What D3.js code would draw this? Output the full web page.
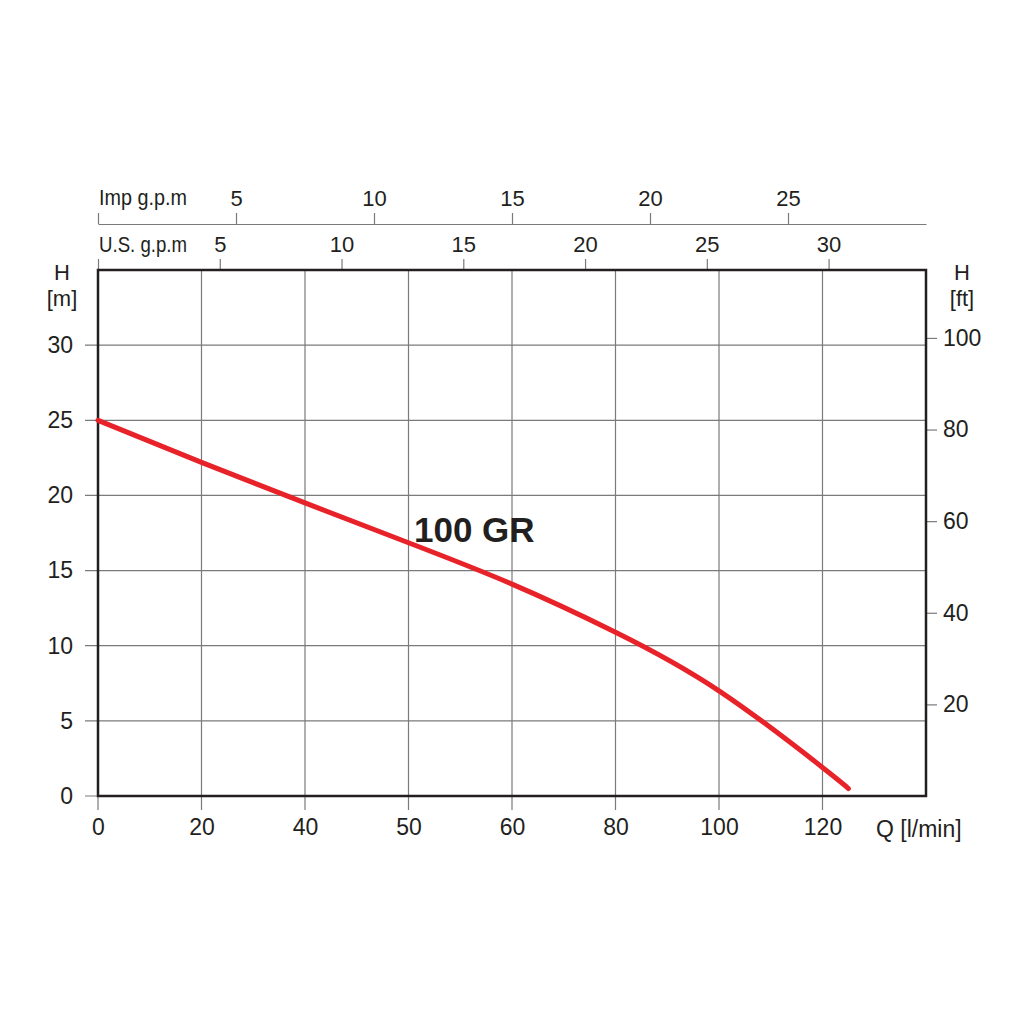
<!DOCTYPE html>
<html lang="en">
<head>
    <meta charset="UTF-8">
    <title>100 GR pump curve</title>
    <script src="https://d3js.org/d3.v7.min.js"></script>
    <style>
        body { margin: 0; background: #fff; }
        svg { display: block; }
        text { font-family: "Liberation Sans", Arial, Helvetica, sans-serif; fill: #231f20; }
    </style>
</head>
<body onload='init()'>
    <svg width=1024 height=1024></svg>

    <script>
        // flow [l/min] and head [m]
        var flow = [0, 20, 40, 50, 60, 80, 100, 120, 125];
        var head = [25.0, 22.2, 19.5, 16.85, 14.1, 10.9, 7.0, 1.9, 0.5];

        // the bottom axis is labelled unevenly, gridlines sit at equal spacing
        var qTicks = [0, 20, 40, 50, 60, 80, 100, 120];
        var qDomain = [0, 20, 40, 50, 60, 80, 100, 120, 140];
        var hTicks = [0, 5, 10, 15, 20, 25, 30];
        var ftTicks = [20, 40, 60, 80, 100];
        var usTicks = [0, 5, 10, 15, 20, 25, 30];
        var impTicks = [0, 5, 10, 15, 20, 25];

        const title = "100 GR";

        function init() {
            var left = 98, right = 926, top = 270, bottom = 796;
            var step = (right - left) / (qDomain.length - 1);

            var x = d3.scaleLinear().domain(qDomain).range(qDomain.map(function(d, i) { return left + i * step; }));
            var y = d3.scaleLinear().domain([0, 35]).range([bottom, top]);
            var yft = d3.scaleLinear().domain([0, 35 * 3.28084]).range([bottom, top]);
            var us = d3.scaleLinear().domain([0, 34]).range([left, right]);
            var imp = d3.scaleLinear().domain([0, 30]).range([left, right]);

            var svg = d3.select("svg");
            var grid = "#7a7a7a";

            // gridlines, running a bit past the frame as ticks
            svg.append("g").selectAll("line")
                .data(qTicks)
                .enter()
                .append("line")
                .attr("x1", function(d) { return x(d); })
                .attr("x2", function(d) { return x(d); })
                .attr("y1", top)
                .attr("y2", bottom + 14)
                .attr("stroke", grid)
                .attr("stroke-width", 1.2);

            svg.append("g").selectAll("line")
                .data(hTicks)
                .enter()
                .append("line")
                .attr("x1", left - 13)
                .attr("x2", right)
                .attr("y1", function(d) { return y(d); })
                .attr("y2", function(d) { return y(d); })
                .attr("stroke", grid)
                .attr("stroke-width", 1.2);

            // bottom axis
            var gx = svg.append("g")
                .attr("transform", "translate(0," + bottom + ")")
                .call(d3.axisBottom(x).tickValues(qTicks).tickSize(14).tickPadding(9));
            gx.select(".domain").remove();
            gx.selectAll("line").remove();
            gx.selectAll("text").style("font-size", "23px");
            svg.append("text")
                .attr("x", 876)
                .attr("y", 837)
                .style("font-size", "23px")
                .text("Q [l/min]");

            // left axis
            var gy = svg.append("g")
                .attr("transform", "translate(" + left + ",0)")
                .call(d3.axisLeft(y).tickValues(hTicks).tickSize(13).tickPadding(12));
            gy.select(".domain").remove();
            gy.selectAll("line").remove();
            gy.selectAll("text").style("font-size", "23px");
            svg.append("text").attr("x", 62).attr("y", 280).attr("text-anchor", "middle")
                .style("font-size", "22px").text("H");
            svg.append("text").attr("x", 62).attr("y", 306).attr("text-anchor", "middle")
                .style("font-size", "22px").text("[m]");

            // right axis in feet
            var gr = svg.append("g")
                .attr("transform", "translate(" + right + ",0)")
                .call(d3.axisRight(yft).tickValues(ftTicks).tickSize(11).tickPadding(6));
            gr.select(".domain").remove();
            gr.selectAll("line").attr("stroke", grid).attr("stroke-width", 1.2);
            gr.selectAll("text").style("font-size", "23px");
            svg.append("text").attr("x", 962).attr("y", 280).attr("text-anchor", "middle")
                .style("font-size", "22px").text("H");
            svg.append("text").attr("x", 962).attr("y", 306).attr("text-anchor", "middle")
                .style("font-size", "22px").text("[ft]");

            // U.S. g.p.m on the top of the frame
            var gu = svg.append("g")
                .attr("transform", "translate(0," + top + ")")
                .call(d3.axisTop(us).tickValues(usTicks).tickSize(11).tickPadding(7)
                    .tickFormat(function(d) { return d === 0 ? "" : d; }));
            gu.select(".domain").remove();
            gu.selectAll("line").attr("stroke", grid).attr("stroke-width", 1.2);
            gu.selectAll("text").style("font-size", "22px");
            svg.append("text").attr("x", 99).attr("y", 252)
                .attr("textLength", 88).attr("lengthAdjust", "spacingAndGlyphs")
                .style("font-size", "22px").text("U.S. g.p.m");

            // Imp g.p.m above it
            var gi = svg.append("g")
                .attr("transform", "translate(0,224)")
                .call(d3.axisTop(imp).tickValues(impTicks).tickSize(11).tickSizeOuter(0).tickPadding(7)
                    .tickFormat(function(d) { return d === 0 ? "" : d; }));
            gi.select(".domain").attr("stroke", grid).attr("stroke-width", 1.2);
            gi.selectAll("line").attr("stroke", grid).attr("stroke-width", 1.2);
            gi.selectAll("text").style("font-size", "22px");
            svg.append("text").attr("x", 99).attr("y", 205)
                .attr("textLength", 88).attr("lengthAdjust", "spacingAndGlyphs")
                .style("font-size", "22px").text("Imp g.p.m");

            // frame
            svg.append("rect")
                .attr("x", left)
                .attr("y", top)
                .attr("width", right - left)
                .attr("height", bottom - top)
                .attr("fill", "none")
                .attr("stroke", "#231f20")
                .attr("stroke-width", 2.5);

            // pump curve
            var line = d3.line()
                .x(function(d, i) { return x(flow[i]); })
                .y(function(d) { return y(d); })
                .curve(d3.curveNatural);

            svg.append("path")
                .datum(head)
                .attr("d", line)
                .attr("fill", "none")
                .attr("stroke", "#e82229")
                .attr("stroke-width", 5)
                .attr("stroke-linecap", "round");

            svg.append("text")
                .attr("x", 414)
                .attr("y", 542)
                .style("font-size", "35px")
                .style("font-weight", "bold")
                .text(title);
        }
    </script>
</body>
</html>
